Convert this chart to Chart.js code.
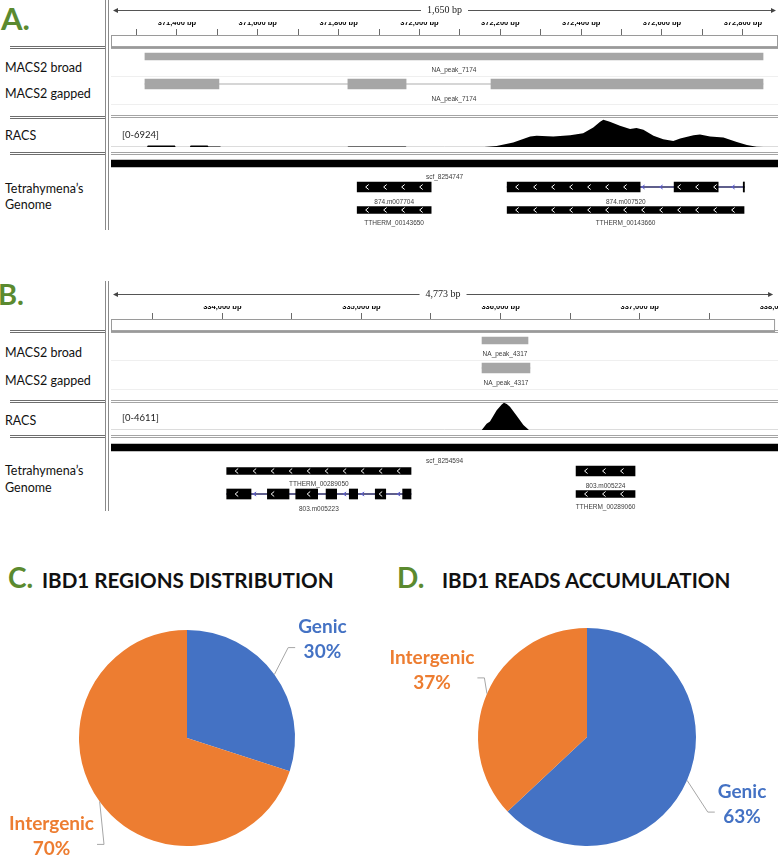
<!DOCTYPE html>
<html>
<head>
<meta charset="utf-8">
<title>IBD1 peaks</title>
<script src="https://cdn.jsdelivr.net/npm/chart.js@4.4.1/dist/chart.umd.min.js"></script>
<style>
  html, body { margin: 0; padding: 0; background: #fff; overflow: hidden; }
  #page { position: relative; width: 778px; height: 857px; overflow: hidden; font-family: Lato, "Open Sans", sans-serif; }
  canvas { position: absolute; }
  .vline { position: absolute; left: 105px; width: 2px; border-left: 1px solid #8a8a8a; border-right: 1px solid #8a8a8a; }
  .hsep { position: absolute; left: 111px; width: 667px; height: 1px; border-top: 1px solid #a4a4a4; border-bottom: 1px solid #a4a4a4; }
  .lsep { position: absolute; left: 10px; width: 95px; height: 1px; border-top: 1px solid #6e6e6e; border-bottom: 1px solid #6e6e6e; }
  .faint { position: absolute; left: 111px; width: 667px; height: 1px; background: #efefef; }
  .letter { position: absolute; color: #5b8a2f; font-weight: bold; line-height: 1; transform: translateY(-50%); }
  .track { position: absolute; left: 5px; font-size: 12.5px; color: #111; line-height: 1; transform: translateY(-50%); white-space: nowrap; }
  .title { position: absolute; font-size: 20.6px; font-weight: bold; color: #111; line-height: 1; transform: translateY(-50%); white-space: nowrap; }
</style>
</head>
<body>
<div id="page">
  <!-- panel frames -->
  <div class="vline" style="top:0;height:230px"></div>
  <div class="vline" style="top:281px;height:230px"></div>

  <div class="hsep" style="top:46px"></div>
  <div class="hsep" style="top:115px"></div>
  <div class="hsep" style="top:152px"></div>
  <div class="lsep" style="top:46px"></div>
  <div class="lsep" style="top:116px"></div>
  <div class="lsep" style="top:152px"></div>
  <div class="faint" style="top:76px"></div>
  <div class="faint" style="top:104px"></div>

  <div class="hsep" style="top:330px"></div>
  <div class="hsep" style="top:400px"></div>
  <div class="hsep" style="top:435px"></div>
  <div class="lsep" style="top:330px"></div>
  <div class="lsep" style="top:400px"></div>
  <div class="lsep" style="top:435px"></div>
  <div class="faint" style="top:360px"></div>
  <div class="faint" style="top:389px"></div>

  <!-- texts -->
  <div class="letter" style="left:1px;top:18px;font-size:31px">A.</div>
  <div class="track" style="top:68px">MACS2 broad</div>
  <div class="track" style="top:94px">MACS2 gapped</div>
  <div class="track" style="top:136px">RACS</div>
  <div class="track" style="top:189px">Tetrahymena’s</div>
  <div class="track" style="top:205px">Genome</div>

  <div class="letter" style="left:-2px;top:293px;font-size:29px">B.</div>
  <div class="track" style="top:353px">MACS2 broad</div>
  <div class="track" style="top:381px">MACS2 gapped</div>
  <div class="track" style="top:421px">RACS</div>
  <div class="track" style="top:471px">Tetrahymena’s</div>
  <div class="track" style="top:488px">Genome</div>

  <div class="letter" style="left:8px;top:577px;font-size:28px">C.</div>
  <div class="title" style="left:42px;top:580px">IBD1 REGIONS DISTRIBUTION</div>
  <div class="letter" style="left:397px;top:577px;font-size:28px">D.</div>
  <div class="title" style="left:442px;top:580px">IBD1 READS ACCUMULATION</div>

  <!-- charts -->
  <canvas id="featA" width="667" height="185" style="left:111px;top:47px"></canvas>
  <canvas id="rulerA" width="667" height="48" style="left:111px;top:0"></canvas>
  <canvas id="racsA" width="667" height="31" style="left:111px;top:118px"></canvas>

  <canvas id="featB" width="667" height="185" style="left:111px;top:331px"></canvas>
  <canvas id="rulerB" width="689" height="48" style="left:111px;top:284px"></canvas>
  <canvas id="racsB" width="667" height="31" style="left:111px;top:401px"></canvas>

  <canvas id="pieC" width="374" height="245" style="left:0;top:612px"></canvas>
  <canvas id="pieD" width="388" height="245" style="left:390px;top:612px"></canvas>
</div>

<script>
/* =========================
   DATA
========================= */

// Panel A: scf_8254747, window in bp
const windowA = [371237, 372887];
const peakA = "NA_peak_7174";
const broadA = [[371321, 372850]];
const gappedA = [[371321, 371504], [371823, 371967], [372177, 372850]];
const contigA = "scf_8254747";
const genesA = ["874.m007704", "TTHERM_00143650", "874.m007520", "TTHERM_00143660"];
const genesA_row = [0, 1, 0, 1];
const genesA_exons = [
  [[371846, 372029]],
  [[371846, 372029]],
  [[372217, 372546], [372630, 372739], [372801, 372804]],
  [[372217, 372803]],
];
const racsA_max = 6924;
const racsA_bp = [
  371237, 371326, 371328, 371395, 371397, 371432, 371434, 371476, 371478, 371507,
  371509, 371822, 371824, 371966, 371968, 372160, 372162, 372191, 372232, 372274,
  372290, 372331, 372373, 372405, 372430, 372447, 372455, 372471, 372496, 372521,
  372537, 372554, 372579, 372603, 372628, 372645, 372678, 372694, 372719, 372752,
  372785, 372810, 372834, 372851, 372887,
];
const racsA_reads = [
  0, 0, 350, 350, 0, 0, 350, 350, 120, 120,
  0, 0, 150, 150, 0, 0, 0, 250, 1085, 2586,
  2753, 2586, 2920, 3420, 4838, 6257, 6757, 6257, 5255, 4421,
  4671, 4254, 2753, 1919, 1502, 2085, 2920, 3087, 2586, 2336,
  1251, 500, 83, 0, 0,
];

// Panel B: scf_8254594
const windowB = [333200, 337973];
const peakB = "NA_peak_4317";
const broadB = [[335855, 336184]];
const gappedB = [[335855, 336198]];
const contigB = "scf_8254594";
const genesB = ["TTHERM_00289050", "803.m005223", "803.m005224", "TTHERM_00289060"];
const genesB_row = [0, 1, 0, 1];
const genesB_exons = [
  [[334028, 335347]],
  [[334028, 334202], [334319, 334474], [334522, 334679], [334739, 334815],
   [334905, 334965], [335091, 335166], [335287, 335347]],
  [[336528, 336950]],
  [[336528, 336950]],
];
const racsB_max = 4611;
const racsB_bp = [333200, 335853, 335888, 335912, 335960, 335996, 336012, 336032, 336055, 336103, 336151, 336191, 337973];
const racsB_reads = [0, 0, 1012, 1406, 3261, 4217, 4498, 4274, 3824, 2362, 843, 0, 0];

// Panels C and D
const pieLabels = ["Genic", "Intergenic"];
const regionsC = [30, 70];
const readsD = [63, 37];

/* =========================
   LAYOUT / STYLE
========================= */

const BLUE = "#4472c4";
const ORANGE = "#ed7d31";
const ROW_Y = { broad: 9.5, gapped: 37, contig: 116.5, gene: [140, 163] };
const BAR_H = { broad: 7, gapped: 10, contig: 7, model: 10, gene: 7 };
const NOTE_FONT = '6.5px "Liberation Sans", Arial, sans-serif';

const quiet = { legend: { display: false }, tooltip: { enabled: false } };
const span = (blocks) => [blocks[0][0], blocks[blocks.length - 1][1]];

function chevron(ctx, x, y, h, color) {
  ctx.strokeStyle = color;
  ctx.lineWidth = 1;
  ctx.beginPath();
  ctx.moveTo(x + 1.5, y - h / 2);
  ctx.lineTo(x - 1.5, y);
  ctx.lineTo(x + 1.5, y + h / 2);
  ctx.stroke();
}

/* =========================
   RULER
========================= */

function rulerChart(id, win, step, labelEvery) {
  const el = document.getElementById(id);
  const pxPerBp = 667 / (win[1] - win[0]);
  const max = win[0] + el.width / pxPerBp;

  new Chart(el, {
    type: "line",
    data: { datasets: [] },
    options: {
      responsive: false,
      animation: false,
      events: [],
      layout: { padding: { top: 22 } },
      scales: {
        x: {
          type: "linear",
          position: "top",
          min: win[0],
          max: max,
          border: { display: false },
          grid: { drawOnChartArea: false, tickLength: 6, color: "#6a6a6a" },
          afterBuildTicks: (scale) => {
            const ticks = [];
            for (let v = Math.ceil(scale.min / step) * step; v <= scale.max; v += step) ticks.push({ value: v });
            scale.ticks = ticks;
          },
          ticks: {
            autoSkip: false,
            maxRotation: 0,
            minRotation: 0,
            padding: 2,
            color: "#000",
            font: { family: '"Liberation Sans", Arial', size: 7.5, weight: "bold" },
            callback: (v) => (v % labelEvery === 0 ? v.toLocaleString("en-US") + " bp" : ""),
          },
        },
        y: { display: false },
      },
      plugins: quiet,
    },
    plugins: [
      {
        id: "rulerFrame",
        afterDraw(chart) {
          const { ctx, chartArea, scales } = chart;
          const left = chartArea.left;
          const right = scales.x.getPixelForValue(win[1]);
          ctx.save();
          ctx.strokeStyle = "#9a9a9a";
          ctx.lineWidth = 1;
          ctx.strokeRect(left + 0.5, chartArea.top + 0.5, right - left - 1, chartArea.bottom - chartArea.top - 1);

          const text = (win[1] - win[0]).toLocaleString("en-US") + " bp";
          ctx.font = '10px "Liberation Serif", serif';
          const tw = ctx.measureText(text).width;
          const cx = (left + right) / 2;
          const y = 10.5;
          ctx.strokeStyle = "#555";
          ctx.fillStyle = "#444";
          ctx.beginPath();
          ctx.moveTo(left + 3, y);
          ctx.lineTo(cx - tw / 2 - 6, y);
          ctx.moveTo(cx + tw / 2 + 6, y);
          ctx.lineTo(right - 3, y);
          ctx.stroke();
          ctx.beginPath();
          ctx.moveTo(left + 2, y);
          ctx.lineTo(left + 7, y - 2.5);
          ctx.lineTo(left + 7, y + 2.5);
          ctx.closePath();
          ctx.moveTo(right - 2, y);
          ctx.lineTo(right - 7, y - 2.5);
          ctx.lineTo(right - 7, y + 2.5);
          ctx.closePath();
          ctx.fill();
          ctx.fillStyle = "#222";
          ctx.textAlign = "center";
          ctx.textBaseline = "middle";
          ctx.fillText(text, cx, y);
          ctx.restore();
        },
      },
    ],
  });
}

/* =========================
   PEAKS + GENOME TRACKS
========================= */

function featureChart(id, win, peakName, broad, gapped, contigName, names, rows, exons) {
  const el = document.getElementById(id);
  const datasets = [];
  const notes = [];

  // order 1 = thin connector lines, drawn under the blocks (order 0)
  const bar = (blocks, y, thick, color, order) => ({
    data: blocks.map((b) => ({ x: b, y: y })),
    barThickness: thick,
    backgroundColor: color,
    borderWidth: 0,
    grouped: false,
    order: order || 0,
  });

  datasets.push(bar(broad, ROW_Y.broad, BAR_H.broad, "#a6a6a6"));
  notes.push({ text: peakName, range: span(broad), y: ROW_Y.broad, h: BAR_H.broad });

  datasets.push(bar([span(gapped)], ROW_Y.gapped, 1, "#c8c8c8", 1));
  datasets.push(bar(gapped, ROW_Y.gapped, BAR_H.gapped, "#a6a6a6"));
  notes.push({ text: peakName, range: span(gapped), y: ROW_Y.gapped, h: BAR_H.gapped });

  datasets.push(bar([win], ROW_Y.contig, BAR_H.contig, "#000"));
  notes.push({ text: contigName, range: win, y: ROW_Y.contig, h: BAR_H.contig });

  const genes = names.map((name, i) => {
    const y = ROW_Y.gene[rows[i]];
    const h = name.startsWith("TTHERM") ? BAR_H.gene : BAR_H.model;
    if (exons[i].length > 1) datasets.push(bar([span(exons[i])], y, 1, "#2a2a66", 1));
    datasets.push(bar(exons[i], y, h, "#000"));
    notes.push({ text: name, range: span(exons[i]), y: y, h: h });
    return { exons: exons[i], range: span(exons[i]), y: y, h: h };
  });

  new Chart(el, {
    type: "bar",
    data: { datasets: datasets },
    options: {
      responsive: false,
      animation: false,
      events: [],
      indexAxis: "y",
      layout: { padding: 0 },
      scales: {
        x: { type: "linear", min: win[0], max: win[1], display: false, beginAtZero: false },
        y: { type: "linear", min: 0, max: el.height, reverse: true, display: false, offset: false },
      },
      plugins: quiet,
    },
    plugins: [
      {
        id: "featureNotes",
        afterDatasetsDraw(chart) {
          const { ctx, scales } = chart;
          const x = scales.x;
          const y = scales.y;
          ctx.save();

          // strand arrows
          genes.forEach((g) => {
            const cy = y.getPixelForValue(g.y);
            const s = x.getPixelForValue(g.range[0]);
            const e = x.getPixelForValue(g.range[1]);
            const blocks = g.exons.map((b) => [x.getPixelForValue(b[0]), x.getPixelForValue(b[1])]);
            for (let px = s + 10; px < e - 3; px += 18) {
              const inside = blocks.some((b) => px - 2 >= b[0] && px + 2 <= b[1]);
              const touch = blocks.some((b) => px + 2 > b[0] && px - 2 < b[1]);
              if (!inside && touch) continue;
              chevron(ctx, px, cy, inside ? 5 : 4, inside ? "#fff" : "#5b5bd6");
            }
          });

          // feature names under each feature
          ctx.font = NOTE_FONT;
          ctx.fillStyle = "#3c3c3c";
          ctx.textAlign = "center";
          ctx.textBaseline = "middle";
          notes.forEach((n) => {
            const a = x.getPixelForValue(Math.max(n.range[0], x.min));
            const b = x.getPixelForValue(Math.min(n.range[1], x.max));
            ctx.fillText(n.text, (a + b) / 2, y.getPixelForValue(n.y) + n.h / 2 + 10);
          });
          ctx.restore();
        },
      },
    ],
  });
}

/* =========================
   RACS COVERAGE
========================= */

function coverageChart(id, win, bp, reads, max) {
  new Chart(document.getElementById(id), {
    type: "line",
    data: {
      datasets: [
        {
          data: bp.map((v, i) => ({ x: v, y: reads[i] })),
          fill: "origin",
          backgroundColor: "#000",
          borderColor: "rgba(0,0,0,0)",
          pointRadius: 0,
          tension: 0,
        },
        {
          data: [{ x: win[0], y: 0 }, { x: win[1], y: 0 }],
          borderColor: "#b8b8b8",
          borderWidth: 1,
          pointRadius: 0,
          fill: false,
        },
      ],
    },
    options: {
      responsive: false,
      animation: false,
      events: [],
      layout: { padding: { top: 1, bottom: 2 } },
      scales: {
        x: { type: "linear", min: win[0], max: win[1], display: false },
        y: { min: 0, max: max, display: false },
      },
      plugins: quiet,
    },
    plugins: [
      {
        id: "dataRange",
        afterDraw(chart) {
          const { ctx, chartArea } = chart;
          ctx.save();
          ctx.font = '9.5px Lato, "Open Sans", sans-serif';
          ctx.fillStyle = "#222";
          ctx.textBaseline = "middle";
          ctx.fillText("[0-" + max + "]", chartArea.left + 11, 16.5);
          ctx.restore();
        },
      },
    ],
  });
}

/* =========================
   PIE CHARTS
========================= */

const pieNotes = {
  id: "pieNotes",
  afterDatasetsDraw(chart) {
    const { ctx } = chart;
    const ds = chart.data.datasets[0];
    const total = ds.data.reduce((a, b) => a + b, 0);
    ctx.save();
    ctx.font = 'bold 19px Lato, "Open Sans", sans-serif';
    ctx.textAlign = "center";
    ctx.textBaseline = "middle";
    chart.getDatasetMeta(0).data.forEach((arc, i) => {
      const p = arc.getProps(["x", "y", "startAngle", "endAngle", "outerRadius"], true);
      const mid = (p.startAngle + p.endAngle) / 2;
      const cos = Math.cos(mid);
      const sin = Math.sin(mid);
      const r = p.outerRadius;
      const lx = p.x + cos * r * 1.55;
      const ly = p.y + sin * r * 1.55;
      const lines = [chart.data.labels[i], Math.round((ds.data[i] / total) * 100) + "%"];
      const hw = Math.max(...lines.map((t) => ctx.measureText(t).width)) / 2;
      const side = cos >= 0 ? -1 : 1;
      const endX = lx + side * (hw + 3);
      const endY = ly + 8;

      ctx.strokeStyle = "#a6a6a6";
      ctx.lineWidth = 1;
      ctx.beginPath();
      ctx.moveTo(p.x + cos * r, p.y + sin * r);
      ctx.lineTo(endX + side * 7, endY);
      ctx.lineTo(endX, endY);
      ctx.stroke();

      ctx.fillStyle = ds.backgroundColor[i];
      ctx.fillText(lines[0], lx, ly - 12.5);
      ctx.fillText(lines[1], lx, ly + 12.5);
    });
    ctx.restore();
  },
};

function pieChart(id, values, padding) {
  new Chart(document.getElementById(id), {
    type: "pie",
    data: {
      labels: pieLabels,
      datasets: [
        {
          data: values,
          backgroundColor: [BLUE, ORANGE],
          borderWidth: 0,
          hoverBorderWidth: 0,
          hoverOffset: 0,
        },
      ],
    },
    options: {
      responsive: false,
      animation: false,
      events: [],
      layout: { padding: padding },
      plugins: quiet,
    },
    plugins: [pieNotes],
  });
}

/* =========================
   BUILD
========================= */

rulerChart("rulerA", windowA, 100, 200);
featureChart("featA", windowA, peakA, broadA, gappedA, contigA, genesA, genesA_row, genesA_exons);
coverageChart("racsA", windowA, racsA_bp, racsA_reads, racsA_max);

rulerChart("rulerB", windowB, 500, 1000);
featureChart("featB", windowB, peakB, broadB, gappedB, contigB, genesB, genesB_row, genesB_exons);
coverageChart("racsB", windowB, racsB_bp, racsB_reads, racsB_max);

pieChart("pieC", regionsC, { left: 79, right: 79, top: 18, bottom: 11 });
pieChart("pieD", readsD, { left: 88, right: 82, top: 16, bottom: 11 });
</script>
</body>
</html>
